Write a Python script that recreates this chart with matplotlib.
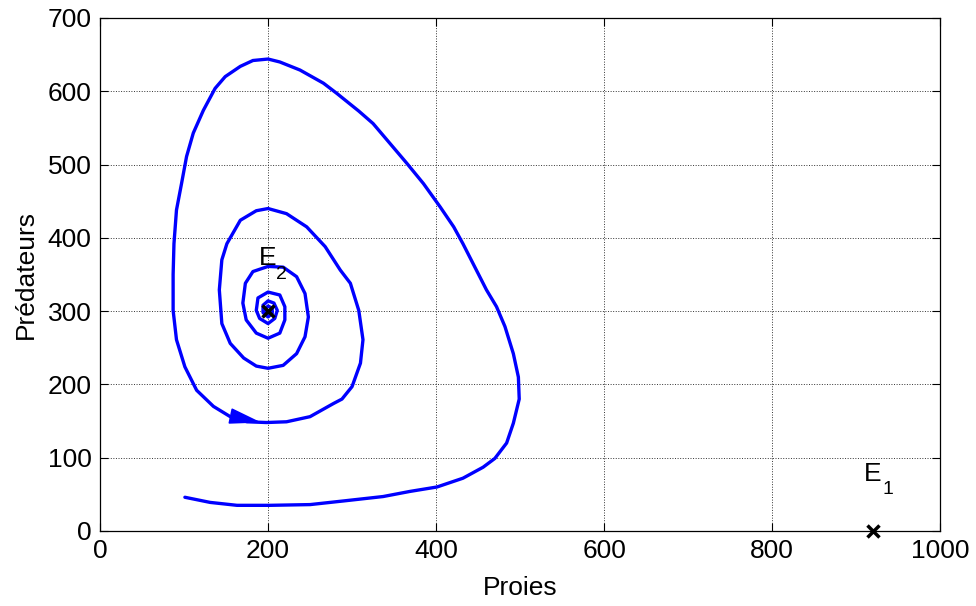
import matplotlib
matplotlib.use("Agg")
import matplotlib.pyplot as plt

plt.rcParams['font.family'] = ['Liberation Sans', 'DejaVu Sans']

# trajectory (proies, predateurs)
proies = [101, 131, 163, 202, 250, 290, 337, 369, 401, 432, 456, 470, 484,
          492, 499, 498, 492, 482, 472, 460, 444, 432, 421, 405, 385, 365,
          345, 325, 308, 282, 266, 238, 214, 200, 182, 167, 149, 137, 123,
          111, 103, 97, 91, 88, 87, 87, 91, 101, 115, 135, 155, 175, 198,
          222, 250, 278, 288, 300, 310, 313, 308, 298, 286, 268, 246, 222,
          200, 186, 167, 151, 145, 142, 145, 155, 171, 186, 200, 218, 234,
          244, 248, 244, 234, 218, 200, 182, 173, 170, 174, 186, 200, 214,
          220, 220, 214, 200, 188, 186, 190, 200, 208, 211, 207, 200, 194,
          194, 200, 205, 205, 200, 196, 199, 200]
predateurs = [46, 39, 35, 35, 36, 41, 47, 54, 60, 72, 87, 99, 120,
              147, 180, 210, 242, 279, 306, 329, 365, 392, 415, 442, 474, 502,
              529, 556, 573, 597, 611, 629, 640, 644, 642, 634, 620, 604, 574,
              543, 511, 474, 438, 392, 350, 301, 261, 224, 192, 170, 156, 149, 148,
              149, 156, 174, 180, 197, 229, 261, 301, 338, 356, 388, 415, 433,
              440, 437, 424, 392, 370, 329, 283, 256, 236, 225, 222, 226, 242,
              265, 292, 324, 347, 360, 361, 354, 338, 311, 288, 270, 263, 270,
              288, 306, 322, 326, 318, 301, 290, 283, 290, 301, 311, 314, 308,
              298, 292, 297, 304, 307, 302, 298, 300]

equilibres_x = [200, 920]
equilibres_y = [300, 0]

fig = plt.figure(figsize=(9.76, 6.06), dpi=100)
ax = fig.add_axes([0.1025, 0.1238, 0.8607, 0.8465])

ax.plot(proies, predateurs, color='#0000ff', lw=2.4,
        solid_joinstyle='round', solid_capstyle='round')
ax.plot(equilibres_x, equilibres_y, 'x', color='black', ms=9, mew=2.5,
        clip_on=False, zorder=5)

# direction arrow on the trajectory
ax.annotate('', xy=(192, 148), xytext=(163, 155),
            arrowprops=dict(arrowstyle='-|>,head_length=1.0,head_width=0.25',
                            mutation_scale=20, color='#0000ff', lw=1.2,
                            shrinkA=0, shrinkB=0))

# labels of the equilibria
ax.text(189, 363, 'E', fontsize=19, ha='left', va='baseline')
ax.text(209, 344, '2', fontsize=14, ha='left', va='baseline')
ax.text(909, 68, 'E', fontsize=19, ha='left', va='baseline')
ax.text(932, 50, '1', fontsize=14, ha='left', va='baseline')

ax.set_xlim(0, 1000)
ax.set_ylim(0, 700)
ax.set_xticks(range(0, 1001, 200))
ax.set_yticks(range(0, 701, 100))
ax.grid(True, color='#333333', linestyle=':', lw=0.7)
ax.tick_params(direction='in', length=6, width=0.8, labelsize=19,
               top=True, right=True, pad=6)
for sp in ax.spines.values():
    sp.set_linewidth(0.9)

ax.set_xlabel('Proies', fontsize=19)
ax.set_ylabel('Prédateurs', fontsize=19)
ax.xaxis.set_label_coords(0.5, -0.088)
ax.yaxis.set_label_coords(-0.074, 0.5)

fig.savefig('out.png', dpi=100)
